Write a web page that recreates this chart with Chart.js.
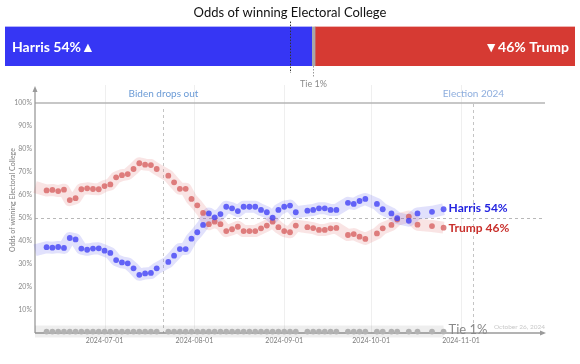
<!DOCTYPE html>
<html>
<head>
<meta charset="utf-8">
<script src="https://cdn.jsdelivr.net/npm/chart.js@4.4.1/dist/chart.umd.min.js"></script>
<style>
  html, body { margin: 0; padding: 0; background: #fff; }
  #wrap { position: relative; width: 580px; height: 364px; }
  #main, #odds { position: absolute; left: 0; top: 0; }
</style>
</head>
<body>
<div id="wrap">
  <canvas id="main" width="580" height="364"></canvas>
  <canvas id="odds" width="580" height="90"></canvas>
</div>
<script>
// poll dates (first entry only anchors the band at the left edge)
const dates = [
  '2024-06-07','2024-06-11','2024-06-13','2024-06-15','2024-06-17','2024-06-19','2024-06-21','2024-06-23','2024-06-25','2024-06-27','2024-06-29',
  '2024-07-01','2024-07-03','2024-07-05','2024-07-07','2024-07-09','2024-07-11','2024-07-13','2024-07-15','2024-07-17','2024-07-19','2024-07-23','2024-07-25','2024-07-27','2024-07-29','2024-07-31',
  '2024-08-02','2024-08-04','2024-08-06','2024-08-08','2024-08-10','2024-08-12','2024-08-14','2024-08-16','2024-08-18','2024-08-20','2024-08-22','2024-08-24','2024-08-26','2024-08-28','2024-08-30',
  '2024-09-01','2024-09-03','2024-09-05','2024-09-09','2024-09-11','2024-09-13','2024-09-15','2024-09-17','2024-09-19','2024-09-23','2024-09-25','2024-09-27','2024-09-29',
  '2024-10-03','2024-10-05','2024-10-08','2024-10-10','2024-10-14','2024-10-17','2024-10-22','2024-10-26'
];
const harris = [
  36.0, 37.3, 37.1, 37.4, 37.0, 41.3, 40.7, 36.7, 36.2, 36.7, 36.8,
  35.8, 34.8, 31.7, 30.7, 30.3, 28.1, 25.3, 25.9, 26.1, 28.1, 30.9, 33.6, 36.5, 36.5, 41.0,
  43.8, 47.0, 52.0, 50.3, 51.7, 54.9, 54.2, 53.0, 54.9, 54.9, 54.9, 53.5, 52.5, 50.1, 53.5,
  54.9, 55.4, 52.5, 53.2, 53.5, 54.2, 54.2, 53.5, 53.5, 56.6, 56.1, 57.4, 58.3,
  56.1, 53.8, 52.0, 49.9, 48.8, 52.0, 52.7, 53.8
];
const trump = [
  63.5, 62.0, 62.2, 61.7, 62.3, 57.8, 58.6, 62.5, 62.9, 62.6, 62.5,
  63.9, 64.6, 67.7, 68.6, 69.1, 71.3, 73.8, 73.2, 73.0, 71.3, 68.4, 65.5, 62.7, 62.7, 58.3,
  55.5, 52.2, 47.3, 48.4, 47.3, 44.3, 45.1, 46.2, 44.3, 44.3, 44.3, 45.5, 46.7, 48.4, 46.0,
  44.3, 43.8, 46.7, 46.0, 45.6, 44.8, 44.8, 45.5, 45.7, 42.6, 43.0, 41.9, 40.9,
  43.3, 45.5, 47.0, 49.3, 50.6, 47.1, 46.5, 45.8
];
const tie = [
  0.6, 0.6, 0.6, 0.6, 0.6, 0.6, 0.6, 0.6, 0.6, 0.6, 0.6,
  0.6, 0.6, 0.6, 0.6, 0.6, 0.6, 0.6, 0.6, 0.6, 0.6, 0.6, 0.6, 0.6, 0.6, 0.6,
  0.6, 0.6, 0.6, 0.6, 0.6, 0.6, 0.6, 0.6, 0.6, 0.6, 0.6, 0.6, 0.6, 0.6, 0.6,
  0.6, 0.6, 0.6, 0.6, 0.6, 0.6, 0.6, 0.6, 0.6, 0.6, 0.6, 0.6, 0.6,
  0.6, 0.6, 0.6, 0.6, 0.6, 0.6, 0.6, 0.6
];
const xTickDates = ['2024-07-01', '2024-08-01', '2024-09-01', '2024-10-01', '2024-11-01'];
const yTickValues = [10, 20, 30, 40, 50, 60, 70, 80, 90, 100];
const xRange = ['2024-06-07', '2024-11-30'];
const eventDates = ['2024-07-21', '2024-11-05'];
const eventLabels = ['Biden drops out', 'Election 2024'];

// top bar: current odds
const oddsNames = ['Harris', 'Tie', 'Trump'];
const oddsValues = [53.8, 0.6, 45.6];

const FONT = 'Lato, "Noto Sans", sans-serif';
const day = s => Date.parse(s) / 864e5;
const pts = arr => arr.map((v, i) => ({ x: day(dates[i]), y: v }));

const BLUE = 'rgba(70, 70, 245, 0.82)';
const RED = 'rgba(212, 88, 88, 0.75)';

function band(arr, color) {
  return { type: 'line', data: pts(arr), borderColor: color, borderWidth: 12, pointRadius: 0,
           tension: 0, borderJoinStyle: 'round', borderCapStyle: 'butt', clip: false, order: 3 };
}
function dots(arr, color) {
  return { type: 'line', data: pts(arr), showLine: false, backgroundColor: color, borderWidth: 0,
           pointRadius: c => c.dataIndex === 0 ? 0 : 2.9, clip: false, order: 1 };
}

const decor = {
  id: 'decor',
  beforeDatasetsDraw(chart) {
    const { ctx, chartArea: a, scales: { x, y } } = chart;
    ctx.save();
    // month grid
    ctx.strokeStyle = '#efefef';
    ctx.lineWidth = 1;
    xTickDates.forEach(d => {
      const px = Math.round(x.getPixelForValue(day(d))) + 0.5;
      ctx.beginPath(); ctx.moveTo(px, a.top - 18); ctx.lineTo(px, a.bottom); ctx.stroke();
    });
    // 100% line
    let py = y.getPixelForValue(100);
    ctx.strokeStyle = '#b4b4b4';
    ctx.lineWidth = 1.5;
    ctx.beginPath(); ctx.moveTo(a.left, py); ctx.lineTo(a.right, py); ctx.stroke();
    // 50% dashed
    py = Math.round(y.getPixelForValue(50)) + 0.5;
    ctx.strokeStyle = '#b8b8b8';
    ctx.lineWidth = 1;
    ctx.setLineDash([3, 3]);
    ctx.beginPath(); ctx.moveTo(a.left, py); ctx.lineTo(a.right, py); ctx.stroke();
    // events
    ctx.strokeStyle = '#c4c4c4';
    eventDates.forEach((d, i) => {
      const px = Math.round(x.getPixelForValue(day(d))) + 0.5;
      ctx.beginPath(); ctx.moveTo(px, a.top + (i === 0 ? 6 : 1)); ctx.lineTo(px, a.bottom); ctx.stroke();
      ctx.fillStyle = i === 0 ? '#6b9bd6' : '#8eaede';
      ctx.font = '10px ' + FONT;
      ctx.textAlign = 'center';
      ctx.textBaseline = 'middle';
      ctx.fillText(eventLabels[i], px, a.top - 9);
    });
    ctx.setLineDash([]);
    // axes with arrows
    ctx.strokeStyle = '#9a9a9a';
    ctx.fillStyle = '#9a9a9a';
    ctx.lineWidth = 1.3;
    ctx.beginPath(); ctx.moveTo(a.left, a.bottom); ctx.lineTo(a.left, a.top - 12); ctx.stroke();
    ctx.beginPath(); ctx.moveTo(a.left, a.top - 17); ctx.lineTo(a.left - 2.5, a.top - 11); ctx.lineTo(a.left + 2.5, a.top - 11); ctx.fill();
    ctx.beginPath(); ctx.moveTo(a.left, a.bottom); ctx.lineTo(a.right - 3, a.bottom); ctx.stroke();
    ctx.beginPath(); ctx.moveTo(a.right + 1, a.bottom); ctx.lineTo(a.right - 5, a.bottom - 2.5); ctx.lineTo(a.right - 5, a.bottom + 2.5); ctx.fill();
    // y title
    ctx.translate(13, 200);
    ctx.rotate(-Math.PI / 2);
    ctx.fillStyle = '#808080';
    ctx.font = '7px ' + FONT;
    ctx.textAlign = 'center';
    ctx.textBaseline = 'middle';
    ctx.fillText('Odds of winning Electoral College', 0, 0);
    ctx.restore();
  },
  afterDatasetsDraw(chart) {
    const { ctx, chartArea: a, scales: { x, y } } = chart;
    const last = dates.length - 1;
    const lx = x.getPixelForValue(day(dates[last])) + 5;
    ctx.save();
    ctx.textAlign = 'left';
    ctx.textBaseline = 'middle';
    ctx.font = 'bold 12px ' + FONT;
    ctx.fillStyle = '#2424e0';
    ctx.fillText('Harris ' + Math.round(harris[last]) + '%', lx, y.getPixelForValue(harris[last]) - 1);
    ctx.fillStyle = '#c9302c';
    ctx.fillText('Trump ' + Math.round(trump[last]) + '%', lx, y.getPixelForValue(trump[last]));
    ctx.font = '13px ' + FONT;
    ctx.fillStyle = '#8a8a8a';
    ctx.fillText('Tie ' + Math.round(tie[last]) + '%', lx, y.getPixelForValue(tie[last]) - 2);
    const note = new Date(Date.parse(dates[last])).toLocaleDateString('en-US',
      { month: 'long', day: 'numeric', year: 'numeric', timeZone: 'UTC' });
    ctx.font = '6.5px ' + FONT;
    ctx.fillStyle = '#c8c8c8';
    ctx.textAlign = 'right';
    ctx.fillText(note, a.right, a.bottom - 6);
    ctx.restore();
  }
};

new Chart(document.getElementById('main'), {
  type: 'line',
  data: {
    datasets: [
      dots(harris, BLUE),
      dots(trump, RED),
      dots(tie, '#b2b2b2'),
      band(harris, 'rgba(95, 95, 240, 0.19)'),
      band(trump, 'rgba(222, 95, 95, 0.17)'),
      band(tie, 'rgba(0, 0, 0, 0.065)')
    ]
  },
  options: {
    responsive: false,
    animation: false,
    layout: { padding: { top: 103, right: 35, bottom: 16, left: 0 } },
    plugins: { legend: { display: false }, tooltip: { enabled: false } },
    scales: {
      x: {
        type: 'linear',
        min: day(xRange[0]),
        max: day(xRange[1]),
        afterBuildTicks: s => { s.ticks = xTickDates.map(d => ({ value: day(d) })); },
        afterFit: s => { s.height = 15; },
        grid: { display: false, drawTicks: false },
        border: { display: false },
        ticks: {
          padding: 4,
          color: '#7a7a7a',
          font: { family: FONT, size: 7 },
          maxRotation: 0,
          callback: v => new Date(v * 864e5).toISOString().slice(0, 10)
        }
      },
      y: {
        min: 0,
        max: 100,
        afterBuildTicks: s => { s.ticks = yTickValues.map(v => ({ value: v })); },
        afterFit: s => { s.width = 35; },
        grid: { display: false, drawTicks: false },
        border: { display: false },
        ticks: {
          padding: 3,
          color: '#8a8a8a',
          font: { family: FONT, size: 7 },
          callback: v => v + '%'
        }
      }
    }
  },
  plugins: [decor]
});

// ---- top odds bar ----
const oddsDecor = {
  id: 'oddsDecor',
  afterDatasetsDraw(chart) {
    const { ctx, chartArea: a, scales: { x } } = chart;
    const hBar = chart.getDatasetMeta(0).data[0];
    const tBar = chart.getDatasetMeta(2).data[0];
    ctx.save();
    ctx.textBaseline = 'middle';
    ctx.fillStyle = '#fff';
    ctx.font = 'bold 14px ' + FONT;
    ctx.textAlign = 'left';
    ctx.fillText(oddsNames[0] + ' ' + Math.round(oddsValues[0]) + '%\u25B2', hBar.base + 7, hBar.y + 1);
    ctx.textAlign = 'right';
    ctx.fillText('\u25BC' + Math.round(oddsValues[2]) + '% ' + oddsNames[2], tBar.x - 6, tBar.y + 1);
    // 50% marker
    let px = Math.round(x.getPixelForValue(50)) + 0.5;
    ctx.strokeStyle = '#333';
    ctx.lineWidth = 1;
    ctx.setLineDash([1.5, 1.5]);
    ctx.beginPath(); ctx.moveTo(px, a.top - 5); ctx.lineTo(px, a.bottom + 7); ctx.stroke();
    // tie marker
    px = Math.round(x.getPixelForValue(oddsValues[0] + oddsValues[1] / 2)) + 0.5;
    ctx.strokeStyle = '#999';
    ctx.beginPath(); ctx.moveTo(px, a.bottom); ctx.lineTo(px, a.bottom + 11); ctx.stroke();
    ctx.setLineDash([]);
    ctx.fillStyle = '#8a8a8a';
    ctx.font = '9px ' + FONT;
    ctx.textAlign = 'center';
    ctx.fillText(oddsNames[1] + ' ' + Math.round(oddsValues[1]) + '%', px, a.bottom + 18);
    ctx.restore();
  }
};

new Chart(document.getElementById('odds'), {
  type: 'bar',
  data: {
    labels: ['odds'],
    datasets: [
      { label: oddsNames[0], data: [oddsValues[0]], backgroundColor: '#3636f4' },
      { label: oddsNames[1], data: [oddsValues[1]], backgroundColor: '#a8a8a8' },
      { label: oddsNames[2], data: [oddsValues[2]], backgroundColor: '#d63a33' }
    ]
  },
  options: {
    indexAxis: 'y',
    responsive: false,
    animation: false,
    layout: { padding: { top: 0, right: 5, bottom: 24, left: 5 } },
    datasets: { bar: { categoryPercentage: 1, barPercentage: 1, borderWidth: 0 } },
    plugins: {
      legend: { display: false },
      tooltip: { enabled: false },
      title: {
        display: true,
        text: 'Odds of winning Electoral College',
        color: '#111',
        font: { family: FONT, size: 13, weight: 'normal' },
        padding: { top: 5, bottom: 6 }
      }
    },
    scales: {
      x: { type: 'linear', min: 0, max: 100, stacked: true, display: false },
      y: { stacked: true, display: false }
    }
  },
  plugins: [oddsDecor]
});
</script>
</body>
</html>
